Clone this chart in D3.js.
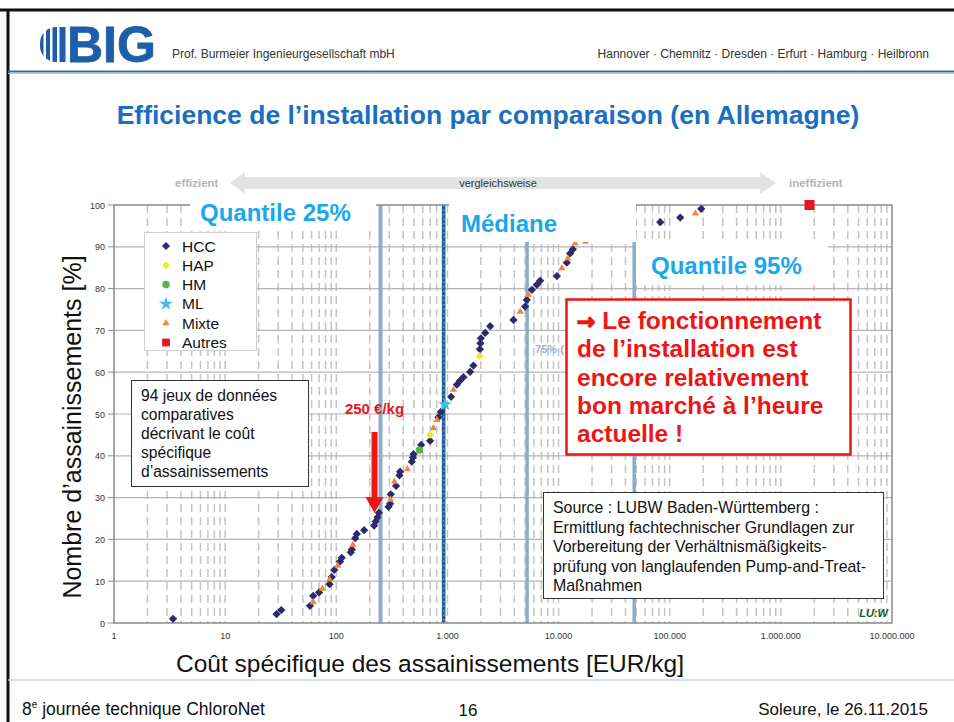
<!DOCTYPE html>
<html>
<head>
<meta charset="utf-8">
<script src="https://cdn.jsdelivr.net/npm/d3@7"></script>
<style>
body { margin: 0; background: #fff; }
svg { display: block; }
text { font-family: 'Liberation Sans', Arial, sans-serif; }
</style>
</head>
<body>
<div id="main"></div>
<script>
// Slide: Efficience de l'installation par comparaison
// all values

// ---- data ----
var categories = ['HCC', 'HAP', 'HM', 'ML', 'Mixte', 'Autres'];

// [cost EUR/kg, cumulative %]
var hcc = [[3.4, 1.0], [29, 2.1], [32, 3.1], [58, 4.1], [62, 6.5], [70, 7.3], [87, 9.3],
  [91, 11.0], [96, 12.7], [108, 14.7], [112, 15.6], [135, 16.9], [138, 17.6], [148, 20.3],
  [153, 21.3], [178, 22.2], [219, 23.3], [226, 24.3], [235, 25.3], [242, 26.4], [295, 27.8],
  [305, 28.5], [309, 30.8], [345, 32.8], [370, 35.3], [375, 36.2], [478, 38.6], [490, 39.6],
  [495, 40.4], [580, 42.6], [699, 43.6], [830, 49.2], [872, 50.5], [1079, 54.1], [1216, 57.0],
  [1300, 58.0], [1393, 58.8], [1600, 60.1], [1713, 61.6], [1960, 65.5], [1980, 66.9],
  [2000, 68.1], [2185, 69.4], [2422, 71.0], [3927, 72.5], [5000, 75.7], [5175, 77.3],
  [5750, 79.7], [6380, 80.9], [6830, 81.9], [9660, 83.0], [11860, 86.2], [12700, 88.4],
  [13450, 89.4], [82200, 95.9], [124400, 97.0], [192000, 99.1]];
var hap = [[699, 45.0], [1941, 63.9]];
var hm = [[560, 41.4]];
var ml = [[953, 52.3]];
var mixte = [[62, 5.0], [75, 8.2], [87, 10.4], [103, 13.7], [141, 18.7], [307, 29.5],
  [333, 33.8], [436, 36.8], [748, 46.6], [805, 48.6], [1132, 55.8], [4512, 74.5], [5360, 78.5],
  [10700, 84.9], [12100, 87.2], [14100, 90.8], [17400, 91.2], [170000, 98.0]];
var autres = [[1810000, 100]];

var quantileValues = [250, 925, 5210, 47900]; // 25%, median, 75%, 95%
var xTicks = [1, 10, 100, 1000, 1e4, 1e5, 1e6, 1e7];
var xTickLabels = ['1', '10', '100', '1.000', '10.000', '100.000', '1.000.000', '10.000.000'];
var yTicks = [0, 10, 20, 30, 40, 50, 60, 70, 80, 90, 100];

var boxLines = ['94 jeux de données', 'comparatives', 'décrivant le coût', 'spécifique', 'd\u2019assainissements'];
var redLines = ['Le fonctionnement', 'de l\u2019installation est', 'encore relativement', 'bon marché à l\u2019heure', 'actuelle !'];
var sourceLines = ['Source : LUBW Baden-Württemberg :', 'Ermittlung fachtechnischer Grundlagen zur',
  'Vorbereitung der Verhältnismäßigkeits-', 'prüfung von langlaufenden Pump-and-Treat-', 'Maßnahmen'];

// ---- layout ----
var winWidth = 954, winHeight = 722;
var pL = 114, pR = 892, pT = 205, pB = 623; // plot area

var svg = d3.select('#main').append('svg')
  .attr('width', winWidth).attr('height', winHeight);

var x = d3.scaleLog().domain([1, 1e7]).range([pL, pR]);
var y = d3.scaleLinear().domain([0, 100]).range([pB, pT]);

// slide frame
svg.append('line').attr('x1', 0).attr('x2', winWidth).attr('y1', 10).attr('y2', 10)
  .attr('stroke', '#111').attr('stroke-width', 3);
svg.append('line').attr('x1', 8).attr('x2', 8).attr('y1', 9).attr('y2', winHeight)
  .attr('stroke', '#111').attr('stroke-width', 3);

// header: logo
var logo = svg.append('g').attr('transform', 'translate(40,27)');
logo.append('clipPath').attr('id', 'logoClip')
  .append('rect').attr('x', 0).attr('y', 0).attr('width', 60).attr('height', 35).attr('rx', 16);
var bars = [[0, 3.5], [6, 4], [12.5, 4.5], [19.5, 6]];
logo.append('g').attr('clip-path', 'url(#logoClip)')
  .selectAll('rect').data(bars).join('rect')
  .attr('x', d => d[0]).attr('y', 0).attr('width', d => d[1]).attr('height', 35)
  .attr('fill', '#1e5ea8');
logo.append('text').attr('x', 27).attr('y', 35)
  .attr('font-size', 50).attr('font-weight', 'bold').attr('fill', '#1e5ea8')
  .attr('stroke', '#1e5ea8').attr('stroke-width', 0.8)
  .text('BIG');
svg.append('text').attr('x', 172).attr('y', 58).attr('font-size', 12).attr('fill', '#333')
  .text('Prof. Burmeier Ingenieurgesellschaft mbH');
svg.append('text').attr('x', 929).attr('y', 58).attr('font-size', 12).attr('fill', '#333')
  .attr('text-anchor', 'end')
  .text('Hannover · Chemnitz · Dresden · Erfurt · Hamburg · Heilbronn');
svg.append('line').attr('x1', 8).attr('x2', winWidth).attr('y1', 71.5).attr('y2', 71.5)
  .attr('stroke', '#2f6f9f').attr('stroke-width', 2);
svg.append('line').attr('x1', 8).attr('x2', winWidth).attr('y1', 73.5).attr('y2', 73.5)
  .attr('stroke', '#b5d0e4').attr('stroke-width', 1);

// title
svg.append('text').attr('x', 488).attr('y', 124).attr('text-anchor', 'middle')
  .attr('font-size', 26.5).attr('font-weight', 'bold').attr('fill', '#1b6fc0')
  .text('Efficience de l\u2019installation par comparaison (en Allemagne)');

// top double arrow
var ay = 183;
svg.append('path')
  .attr('d', 'M230,' + ay + ' L245,' + (ay - 11) + ' L245,' + (ay - 6) + ' L760,' + (ay - 6) +
    ' L760,' + (ay - 11) + ' L776,' + ay + ' L760,' + (ay + 11) + ' L760,' + (ay + 6) +
    ' L245,' + (ay + 6) + ' L245,' + (ay + 11) + ' Z')
  .attr('fill', '#e3e3e3');
svg.append('text').attr('x', 175).attr('y', ay + 4).attr('font-size', 11.5).attr('font-weight', 'bold')
  .attr('fill', '#b4b4b4').text('effizient');
svg.append('text').attr('x', 789).attr('y', ay + 4).attr('font-size', 11.5).attr('font-weight', 'bold')
  .attr('fill', '#b4b4b4').text('ineffizient');
svg.append('text').attr('x', 498).attr('y', ay + 4).attr('font-size', 11).attr('text-anchor', 'middle')
  .attr('fill', '#333').text('vergleichsweise');

// grid
var minor = [];
for (var k = 0; k < 7; k++) {
  for (var i = 1; i < 10; i++) {
    var v = i * Math.pow(10, k);
    if (v > 1) minor.push(v);
  }
}
svg.append('g').selectAll('line').data(minor).join('line')
  .attr('x1', d => x(d)).attr('x2', d => x(d)).attr('y1', pT).attr('y2', pB)
  .attr('stroke', '#c4c4c4').attr('stroke-width', 1.5).attr('stroke-dasharray', '8,5');
svg.append('g').selectAll('line').data(yTicks.filter(d => d > 0 && d < 100)).join('line')
  .attr('x1', pL).attr('x2', pR).attr('y1', d => y(d)).attr('y2', d => y(d))
  .attr('stroke', '#b4b4b4').attr('stroke-width', 1.2);

// quantile lines
[0, 2, 3].forEach(function (q) {
  svg.append('line').attr('x1', x(quantileValues[q])).attr('x2', x(quantileValues[q]))
    .attr('y1', pT).attr('y2', pB).attr('stroke', '#8eabcc').attr('stroke-width', q === 0 ? 4 : 3.5);
});
svg.append('line').attr('x1', x(quantileValues[1])).attr('x2', x(quantileValues[1]))
  .attr('y1', pT).attr('y2', pB).attr('stroke', '#1d5f8f').attr('stroke-width', 3.5);
svg.append('line').attr('x1', x(quantileValues[1])).attr('x2', x(quantileValues[1]))
  .attr('y1', pT).attr('y2', pB).attr('stroke', '#79b2d4').attr('stroke-width', 1.2)
  .attr('stroke-dasharray', '1.5,3');
svg.append('text').attr('x', x(quantileValues[2]) + 8).attr('y', 353).attr('font-size', 11)
  .attr('font-weight', 'bold').attr('fill', '#9bb4cf').text('75% (');

// plot frame
svg.append('rect').attr('x', pL).attr('y', pT).attr('width', pR - pL).attr('height', pB - pT)
  .attr('fill', 'none').attr('stroke', '#8a8a8a').attr('stroke-width', 1.5);
svg.append('g').selectAll('line').data(yTicks).join('line')
  .attr('x1', pL - 6).attr('x2', pL).attr('y1', d => y(d)).attr('y2', d => y(d))
  .attr('stroke', '#8a8a8a').attr('stroke-width', 1);

// points
var series = [
  { name: 'HCC', data: hcc, type: d3.symbolSquare, rot: 45, size: 34, color: '#2c2a6c' },
  { name: 'HAP', data: hap, type: d3.symbolSquare, rot: 45, size: 30, color: '#f2e62a' },
  { name: 'HM', data: hm, type: d3.symbolCircle, rot: 0, size: 45, color: '#5cb448' },
  { name: 'ML', data: ml, type: d3.symbolStar, rot: 0, size: 60, color: '#4fb6e8' },
  { name: 'Mixte', data: mixte, type: d3.symbolTriangle, rot: 0, size: 22, color: '#f0873a' },
  { name: 'Autres', data: autres, type: d3.symbolSquare, rot: 0, size: 100, color: '#e8151d' }
];
series.forEach(function (s) {
  svg.append('g').selectAll('path').data(s.data).join('path')
    .attr('transform', d => 'translate(' + x(d[0]) + ',' + y(d[1]) + ') rotate(' + s.rot + ')')
    .attr('d', d3.symbol(s.type, s.size))
    .attr('fill', s.color);
});

// white label boxes over the chart
var labelBoxes = [
  { x: 190, y: 196, w: 186, h: 34, text: 'Quantile 25%', tx: 200, ty: 221 },
  { x: 449, y: 196, w: 187, h: 46, text: 'Médiane', tx: 461, ty: 232 },
  { x: 636, y: 243, w: 192, h: 42, text: 'Quantile 95%', tx: 651, ty: 274 }
];
labelBoxes.forEach(function (b) {
  svg.append('rect').attr('x', b.x).attr('y', b.y).attr('width', b.w).attr('height', b.h).attr('fill', '#fff');
  svg.append('text').attr('x', b.tx).attr('y', b.ty).attr('font-size', 24).attr('font-weight', 'bold')
    .attr('fill', '#18a8ee').text(b.text);
});

// legend
var leg = svg.append('g');
leg.append('rect').attr('x', 144.5).attr('y', 232.5).attr('width', 112).attr('height', 118)
  .attr('fill', '#fff').attr('stroke', '#d0d0d0');
series.forEach(function (s, i) {
  var ly = 246 + i * 19.3;
  leg.append('path').attr('transform', 'translate(166,' + ly + ') rotate(' + s.rot + ')')
    .attr('d', d3.symbol(s.type, s.name === 'Autres' ? 60 : s.size)).attr('fill', s.color);
  leg.append('text').attr('x', 182).attr('y', ly + 5.5).attr('font-size', 15.5).attr('fill', '#111')
    .text(categories[i]);
});

// info box left
svg.append('rect').attr('x', 131.5).attr('y', 380.5).attr('width', 177).attr('height', 106)
  .attr('fill', '#fff').attr('stroke', '#333').attr('stroke-width', 1);
svg.append('g').selectAll('text').data(boxLines).join('text')
  .attr('x', 141).attr('y', (d, i) => 401 + i * 19).attr('font-size', 15.6).attr('fill', '#111')
  .text(d => d);

// red arrow at 250 EUR/kg
var axp = x(quantileValues[0]) - 6;
svg.append('rect').attr('x', axp - 3).attr('y', 432).attr('width', 6).attr('height', 66).attr('fill', '#ee1515');
svg.append('path').attr('d', 'M' + (axp - 9) + ',497 L' + (axp + 9) + ',497 L' + axp + ',513 Z').attr('fill', '#ee1515');
svg.append('text').attr('x', axp).attr('y', 414).attr('text-anchor', 'middle').attr('font-size', 15)
  .attr('font-weight', 'bold').attr('fill', '#ee1515').text('250 €/kg');

// red conclusion box
svg.append('rect').attr('x', 566.5).attr('y', 299.5).attr('width', 284).attr('height', 155)
  .attr('fill', '#fff').attr('stroke', '#ee1515').attr('stroke-width', 2.5);
svg.append('g').selectAll('text').data(redLines).join('text')
  .attr('x', 577).attr('y', (d, i) => 329 + i * 28.3).attr('font-size', 24.5).attr('font-weight', 'bold')
  .attr('fill', '#ee1515')
  .each(function (d, i) {
    var t = d3.select(this);
    if (i === 0) {
      t.append('tspan').attr('font-family', 'DejaVu Sans').attr('font-size', 22)
        .attr('stroke', '#ee1515').attr('stroke-width', 1.4).text('\u2192');
      t.append('tspan').text(' ' + d);
    } else {
      t.text(d);
    }
  });

// source box
svg.append('rect').attr('x', 543.5).attr('y', 492.5).attr('width', 340).attr('height', 106)
  .attr('fill', '#fff').attr('stroke', '#333').attr('stroke-width', 1);
svg.append('g').selectAll('text').data(sourceLines).join('text')
  .attr('x', 553).attr('y', (d, i) => 513 + i * 19.5).attr('font-size', 15.9).attr('fill', '#111')
  .text(d => d);

// LUBW mark
svg.append('text').attr('x', 888).attr('y', 617).attr('text-anchor', 'end').attr('font-size', 11)
  .attr('font-weight', 'bold').attr('font-style', 'italic').attr('fill', '#1d5a2c').text('LU:W');

// tick labels
svg.append('g').selectAll('text').data(xTicks).join('text')
  .attr('x', d => x(d)).attr('y', 639).attr('text-anchor', 'middle').attr('font-size', 9)
  .attr('fill', '#333').text((d, i) => xTickLabels[i]);
svg.append('g').selectAll('text').data(yTicks).join('text')
  .attr('x', 105).attr('y', d => y(d) + 3.5).attr('text-anchor', 'end').attr('font-size', 9)
  .attr('fill', '#333').text(d => d);

// axis titles
svg.append('text').attr('x', 430).attr('y', 672).attr('text-anchor', 'middle').attr('font-size', 24.5)
  .attr('fill', '#111').text('Coût spécifique des assainissements [EUR/kg]');
svg.append('text').attr('transform', 'translate(81,427) rotate(-90)').attr('text-anchor', 'middle')
  .attr('font-size', 25).attr('fill', '#111').text('Nombre d\u2019assainissements [%]');

// footer
svg.append('line').attr('x1', 8).attr('x2', winWidth).attr('y1', 680).attr('y2', 680)
  .attr('stroke', '#c9d6e2').attr('stroke-width', 1.5);
var f1 = svg.append('text').attr('x', 22).attr('y', 715).attr('font-size', 17.5).attr('fill', '#111');
f1.append('tspan').text('8');
f1.append('tspan').attr('font-size', 10).attr('dy', -7).text('e');
f1.append('tspan').attr('dy', 7).text(' journée technique ChloroNet');
svg.append('text').attr('x', 468).attr('y', 716).attr('text-anchor', 'middle').attr('font-size', 17)
  .attr('fill', '#111').text('16');
svg.append('text').attr('x', 928).attr('y', 715).attr('text-anchor', 'end').attr('font-size', 17)
  .attr('fill', '#111').text('Soleure, le 26.11.2015');
</script>
</body>
</html>
